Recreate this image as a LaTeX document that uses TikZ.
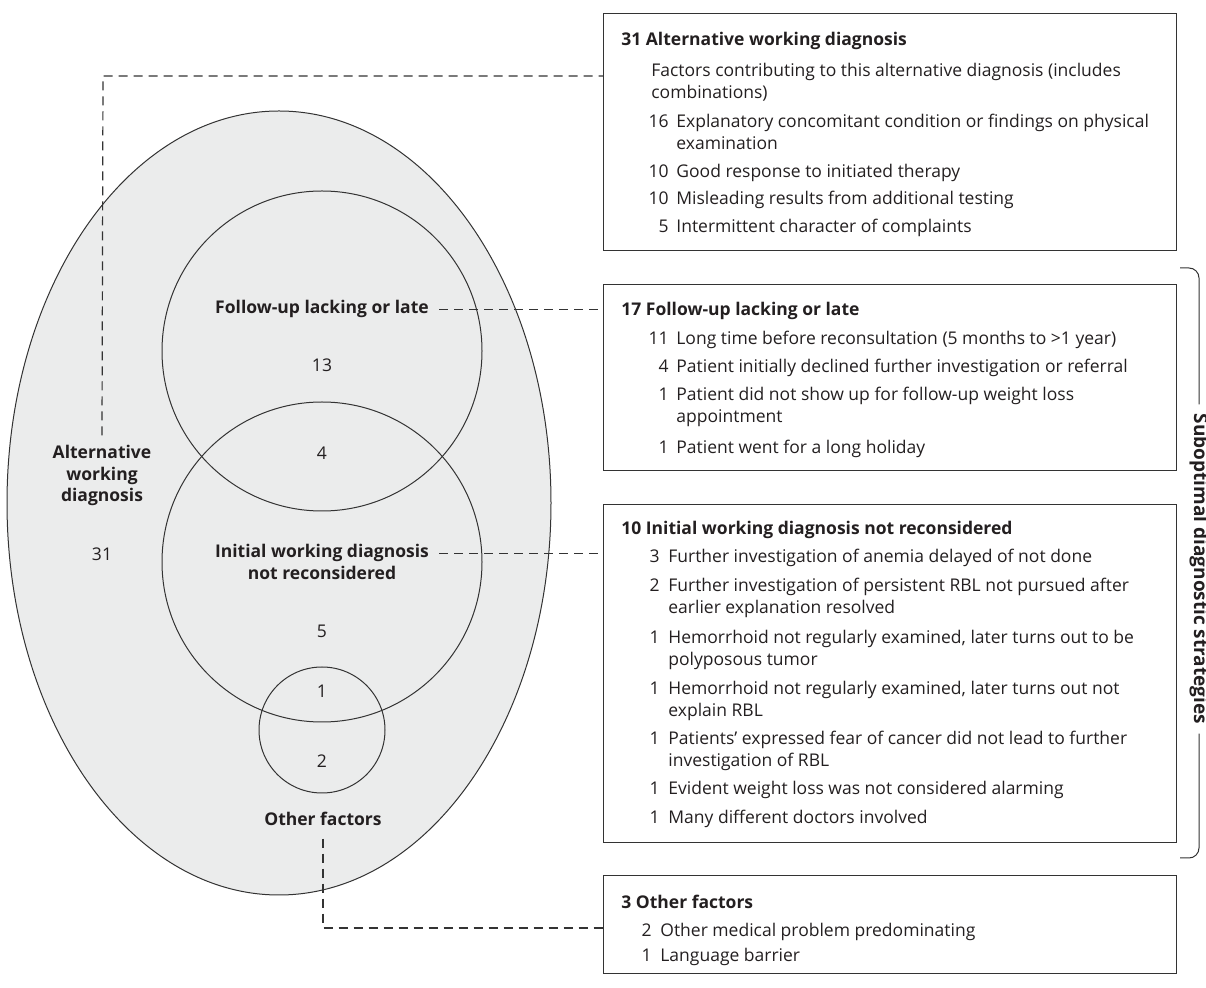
\documentclass[tikz,border=0pt]{standalone}
\usepackage{fontspec}
\setmainfont{Open Sans}
\definecolor{venngray}{RGB}{235,236,236}
\definecolor{inkgray}{RGB}{35,31,32}
\definecolor{linegray}{RGB}{51,51,51}
\newcommand\twol[2]{\vtop{\hbox{#1}\hbox{#2}}}

\begin{document}
\begin{tikzpicture}
  [x=0.5pt,y=-0.5pt,
   every node/.style={font=\fontsize{8.75}{10.75}\selectfont,text=inkgray,inner sep=0pt},
   boxed/.style={draw=linegray,line width=0.7pt,anchor=north west,minimum width=286.5pt},
   hd/.style={anchor=base west,font=\fontsize{8.75}{10.75}\selectfont\bfseries},
   itm/.style={anchor=base west},
   cnt/.style={anchor=base east},
   lbl/.style={anchor=base,font=\fontsize{8.75}{10.75}\selectfont\bfseries},
   venn/.style={draw=linegray,line width=0.5pt},
   lead/.style={draw=linegray,line width=0.6pt,dash pattern=on 4.5pt off 3pt}]
  \useasboundingbox (0,0) rectangle (1206,988);

  % venn diagram
  \fill[venngray] (279,503) ellipse [x radius=272,y radius=392];
  \draw[venn] (279,503) ellipse [x radius=272,y radius=392];
  \draw[venn] (322,351) circle [radius=160];
  \draw[venn] (322,562) circle [radius=160];
  \draw[venn] (322,730) circle [radius=63];

  \node[lbl] (fu) at (322,314) {Follow-up lacking or late};
  \node[lbl] (iw) at (322,558) {Initial working diagnosis};
  \node[lbl] (iw2) at (322,579.5) {not reconsidered};
  \node[lbl] (alt1) at (102,459) {Alternative};
  \node[lbl] (alt2) at (102,480.5) {working};
  \node[lbl] (alt3) at (102,502) {diagnosis};
  \node[lbl] (oth) at (323,826) {Other factors};
  \foreach \nx/\ny/\cn in {322/372/13,322/460/4,102/561/31,322/638/5,322/698/1,322/768/2}
    \node[anchor=base] (n\cn) at (\nx,\ny) {\cn};

  % boxes
  \node[boxed,minimum height=118.5pt] (b1) at (603,13) {};
  \node[boxed,minimum height=93pt] (b2) at (603,284) {};
  \node[boxed,minimum height=169pt] (b3) at (603,504) {};
  \node[boxed,minimum height=49pt] (b4) at (603,875) {};

  \node[hd] (h1) at (621,46) {31 Alternative working diagnosis};
  \node[itm] (f1) at (651,77) {\twol{Factors contributing to this alternative diagnosis (includes}{combinations)}};
  \foreach \by/\cn/\desc [count=\i] in {128/16/{\twol{Explanatory concomitant condition or findings on physical}{examination}},
      178/10/{Good response to initiated therapy},
      205/10/{Misleading results from additional testing},
      233/5/{Intermittent character of complaints}}
  {\node[cnt] (c1\i) at (669,\by) {\cn};
   \node[itm] (t1\i) at (676,\by) {\desc};}

  \node[hd] (h2) at (621,316) {17 Follow-up lacking or late};
  \foreach \by/\cn/\desc [count=\i] in {345/11/{Long time before reconsultation (5 months to \textgreater1 year)},
      373/4/{Patient initially declined further investigation or referral},
      401/1/{\twol{Patient did not show up for follow-up weight loss}{appointment}},
      454/1/{Patient went for a long holiday}}
  {\node[cnt] (c2\i) at (669,\by) {\cn};
   \node[itm] (t2\i) at (676,\by) {\desc};}

  \node[hd] (h3) at (621,535) {10 Initial working diagnosis not reconsidered};
  \foreach \by/\cn/\desc [count=\i] in {563/3/{Further investigation of anemia delayed of not done},
      592/2/{\twol{Further investigation of persistent RBL not pursued after}{earlier explanation resolved}},
      644/1/{\twol{Hemorrhoid not regularly examined, later turns out to be}{polyposous tumor}},
      695/1/{\twol{Hemorrhoid not regularly examined, later turns out not}{explain RBL}},
      745/1/{\twol{Patients’ expressed fear of cancer did not lead to further}{investigation of RBL}},
      795/1/{Evident weight loss was not considered alarming},
      824/1/{Many different doctors involved}}
  {\node[cnt] (c3\i) at (660,\by) {\cn};
   \node[itm] (t3\i) at (668,\by) {\desc};}

  \node[hd] (h4) at (621,909) {3 Other factors};
  \foreach \by/\cn/\desc [count=\i] in {936/2/{Other medical problem predominating},
      962/1/{Language barrier}}
  {\node[cnt] (c4\i) at (652,\by) {\cn};
   \node[itm] (t4\i) at (660,\by) {\desc};}

  % dashed leaders
  \coordinate (altbend) at (103,76);
  \coordinate (othbend) at (323,928);
  \draw[lead] ([yshift=5pt]alt1.north) -- (altbend) -- (altbend -| b1.west);
  \draw[lead] ([xshift=5pt]fu.east) -- (fu.east -| b2.west);
  \draw[lead] ([xshift=5pt]iw.east) -- (iw.east -| b3.west);
  \draw[lead] ([yshift=-6pt]oth.south) -- (othbend) -- (othbend -| b4.west);

  % bracket
  \node[font=\fontsize{9.5}{11}\selectfont\bfseries,rotate=-90,inner sep=4.5pt] (sub) at (1199,569) {Suboptimal diagnostic strategies};
  \draw[venn,rounded corners=5pt] (1180,268) -- (1199,268) -- (sub.west);
  \draw[venn,rounded corners=5pt] (sub.east) -- (1199,858) -- (1180,858);
\end{tikzpicture}
\end{document}
